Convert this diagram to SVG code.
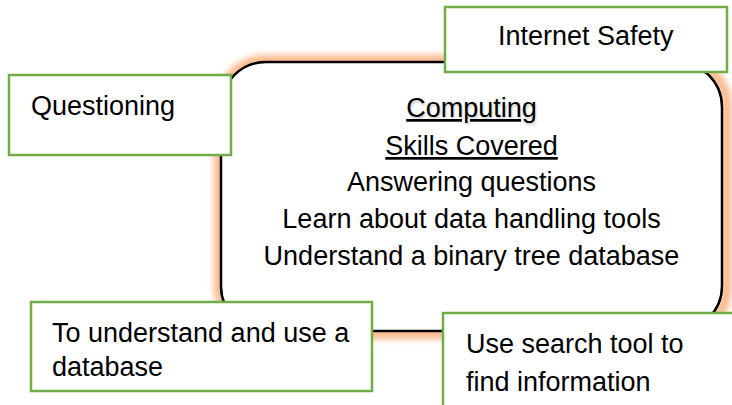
<svg xmlns="http://www.w3.org/2000/svg" width="732" height="405" viewBox="0 0 732 405">
  <defs>
    <filter id="glow" x="-20%" y="-20%" width="140%" height="140%">
      <feGaussianBlur stdDeviation="3"/>
    </filter>
    <filter id="tshadow" x="-10%" y="-30%" width="120%" height="160%">
      <feGaussianBlur stdDeviation="1"/>
    </filter>
  </defs>
  <style>
    text { font-family: "Liberation Sans", Arial, sans-serif; font-size: 27px; fill: #000; }
    .c { text-anchor: middle; }
    .box { fill: #fff; stroke: #70ad47; stroke-width: 2.5; }
    .main { fill: #fff; stroke: #000; stroke-width: 2.5; }
    .halo { fill: none; stroke: #f8b889; stroke-width: 10; filter: url(#glow); }
  </style>

  <g id="center">
    <rect class="halo" x="219" y="60" width="508" height="274" rx="47" ry="47"/>
    <rect class="main" x="221" y="62" width="501" height="269" rx="45" ry="45"/>
    <text class="c" x="472.5" y="118.5" style="fill:#c8c8c8" filter="url(#tshadow)">Computing</text>
    <text class="c" x="471.5" y="117" text-decoration="underline">Computing</text>
    <text class="c" x="471.5" y="155" text-decoration="underline">Skills Covered</text>
    <text class="c" x="471.5" y="191">Answering questions</text>
    <text class="c" x="471.5" y="228">Learn about data handling tools</text>
    <text class="c" x="471.5" y="265">Understand a binary tree database</text>
  </g>

  <g id="connectors"></g>

  <g id="internet-safety">
    <rect class="box" x="445" y="7" width="282" height="65"/>
    <text x="498" y="45">Internet Safety</text>
  </g>

  <g id="questioning">
    <rect class="box" x="9" y="75" width="222" height="80"/>
    <text x="31" y="115">Questioning</text>
  </g>

  <g id="database">
    <rect class="box" x="31" y="302" width="341" height="89"/>
    <text x="52" y="342">To understand and use a</text>
    <text x="52" y="376">database</text>
  </g>

  <g id="search">
    <rect class="box" x="443" y="313" width="300" height="100"/>
    <text x="466" y="353">Use search tool to</text>
    <text x="466" y="391">find information</text>
  </g>
</svg>
